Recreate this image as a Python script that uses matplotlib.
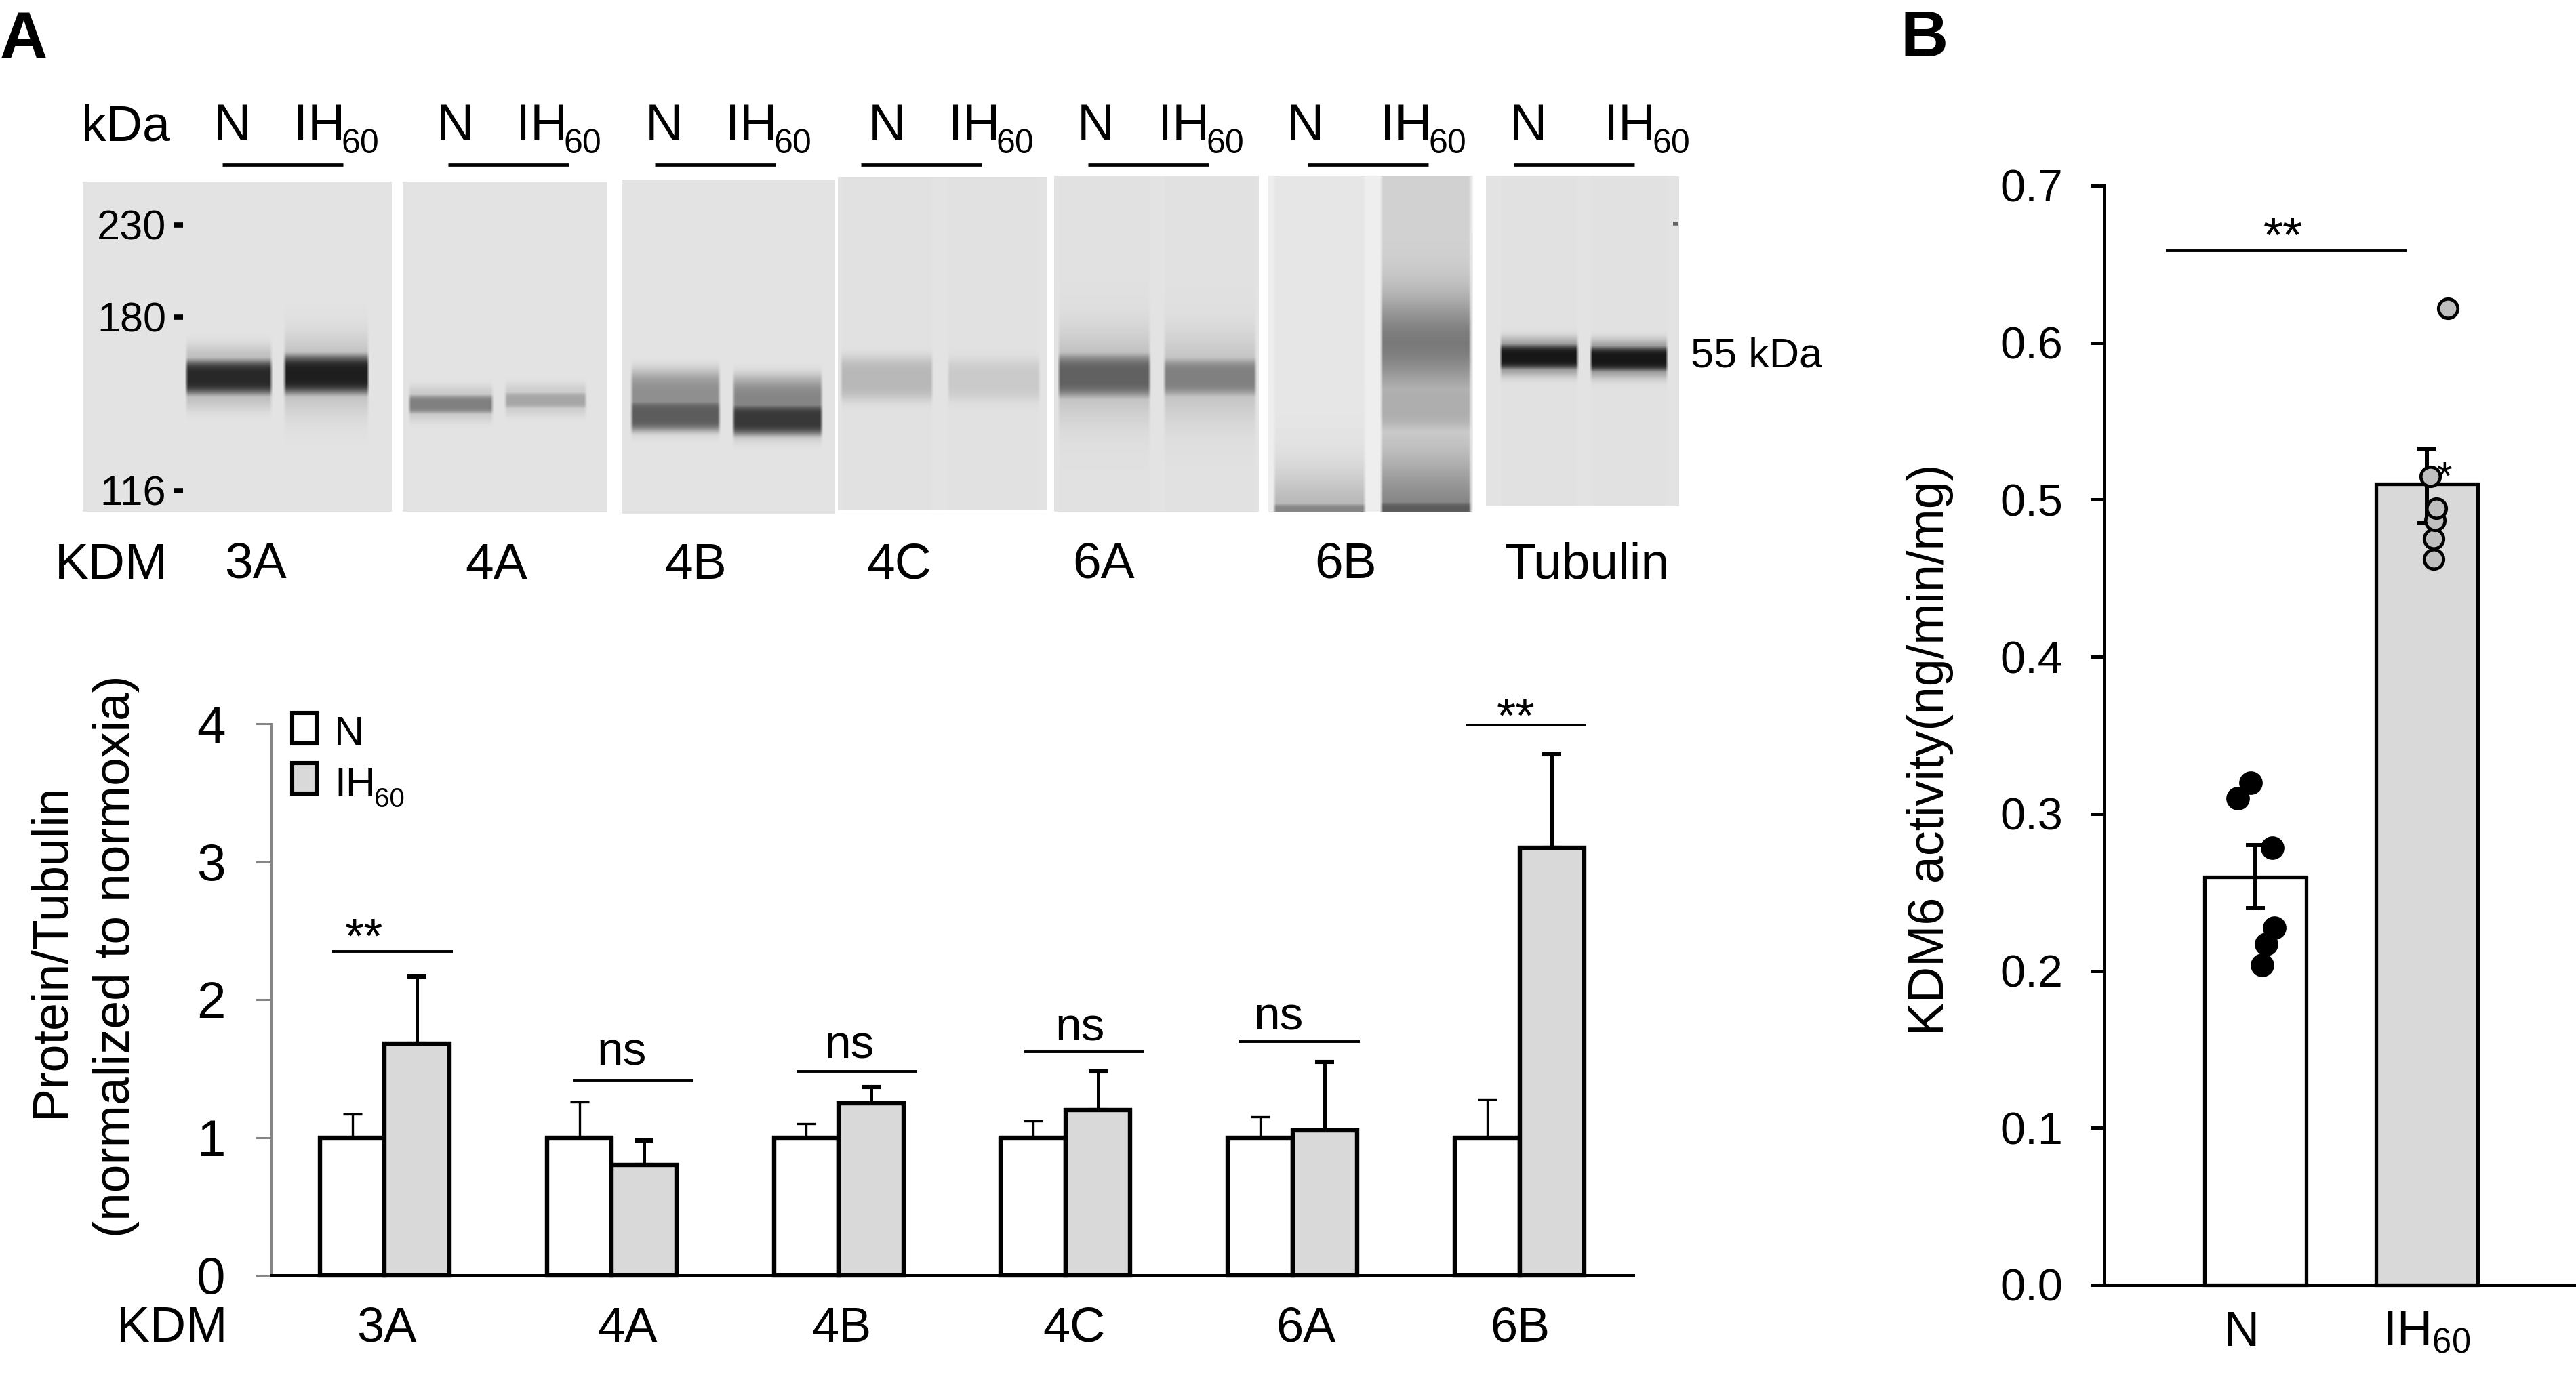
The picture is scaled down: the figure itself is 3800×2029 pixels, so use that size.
import numpy as np
import matplotlib
matplotlib.use("Agg")
import matplotlib.pyplot as plt

plt.rcParams['font.family'] = ['Liberation Sans', 'DejaVu Sans']
plt.rcParams['mathtext.fontset'] = 'custom'
plt.rcParams['mathtext.rm'] = 'Liberation Sans'
plt.rcParams['mathtext.default'] = 'regular'

# panel A values
kdm = ["3A", "4A", "4B", "4C", "6A", "6B"]
normoxia = [1, 1, 1, 1, 1, 1]
ih60 = [1.68, 0.80, 1.25, 1.20, 1.05, 3.10]
normoxiaTop = [1.17, 1.26, 1.10, 1.12, 1.15, 1.28]
ih60Top = [2.165, 0.98, 1.365, 1.48, 1.55, 3.78]
sigLevel = [2.35, 1.415, 1.48, 1.62, 1.695, 3.99]
sigText = ["**", "ns", "ns", "ns", "ns", "**"]

# panel B values
groups = ["N", "IH$_{60}$"]
activity = [0.26, 0.51]
activityLow = [0.24, 0.485]
activityHigh = [0.28, 0.5325]
dotsN = [0.32, 0.31, 0.2785, 0.2273, 0.217, 0.2038]
dotsIH = [0.622, 0.462, 0.475, 0.487, 0.4946, 0.515]

W, H = 3800, 2029
GREY = "#d9d9d9"
fig = plt.figure(figsize=(W / 100, H / 100), dpi=100, facecolor="white")

def pxAxes(x0, x1, ytop, ybot):
    return fig.add_axes([x0 / W, 1 - ybot / H, (x1 - x0) / W, (ybot - ytop) / H], facecolor="none")

# everything placed by pixel goes on this one
page = fig.add_axes([0, 0, 1, 1], zorder=0)

# blot: x0, x1, y0, y1, background, lanes
# lane: x0, x1, lane background, bands (centre, half height, grey)
blots = [
    (122, 578, 268, 755, 0.89, [
        (272, 402, 0.89, [(556, 46, 0.72), (556, 26, 0.16)]),
        (417, 545, 0.89, [(552, 52, 0.70), (552, 29, 0.12)])]),
    (594, 896, 268, 755, 0.89, [
        (601, 728, 0.89, [(595, 26, 0.78), (596, 14, 0.50)]),
        (743, 866, 0.89, [(589, 24, 0.80), (590, 12, 0.65)])]),
    (917, 1232, 265, 758, 0.89, [
        (929, 1063, 0.89, [(590, 44, 0.56), (612, 24, 0.36)]),
        (1079, 1214, 0.89, [(599, 44, 0.52), (618, 24, 0.22)])]),
    (1236, 1544, 261, 753, 0.89, [
        (1238, 1377, 0.88, [(558, 32, 0.72)]),
        (1396, 1535, 0.88, [(560, 30, 0.79)])]),
    (1555, 1857, 259, 755, 0.89, [
        (1559, 1698, 0.88, [(552, 62, 0.72), (554, 32, 0.38)]),
        (1715, 1854, 0.88, [(556, 60, 0.74), (556, 28, 0.50)])]),
    (1871, 2173, 259, 755, 0.93, [
        (1877, 2015, 0.90, [(765, 70, 0.70), (752, 10, 0.52)]),
        (2035, 2171, 0.82, [(505, 70, 0.48), (597, 36, 0.68), (755, 80, 0.52), (752, 14, 0.36)])]),
    (2192, 2477, 260, 747, 0.89, [
        (2211, 2329, 0.88, [(526, 28, 0.55), (526, 19, 0.09)]),
        (2344, 2461, 0.88, [(529, 28, 0.55), (529, 19, 0.09)])]),
]

for x0, x1, y0, y1, bg, lanes in blots:
    img = np.full((y1 - y0, x1 - x0), float(bg))
    yy = np.arange(y0, y1)
    xx = np.arange(x0, x1)
    for lx0, lx1, lbg, bands in lanes:
        prof = np.full(len(yy), float(lbg))
        for c, hw, g in bands:
            # the wide smears fade slowly, the tight bands have flat tops
            p = 2 if hw > 50 else 4
            t = np.exp(-np.abs((yy - c) / hw) ** p)
            prof = np.minimum(prof, lbg - (lbg - g) * t)
        edge = np.clip((xx - lx0) / 5, 0, 1) * np.clip((lx1 - xx) / 5, 0, 1)
        img = img * (1 - edge[None, :]) + prof[:, None] * edge[None, :]
    page.imshow(img, cmap="gray", vmin=0, vmax=1, extent=(x0, x1, y1, y0),
                aspect="auto", interpolation="bilinear")

page.set_xlim(0, W)
page.set_ylim(H, 0)
page.axis("off")

def note(x, y, s, size, **kw):
    page.text(x, y, s, fontsize=size, color="black", va=kw.pop("va", "baseline"), **kw)

NARROW = ['Liberation Sans Narrow', 'Liberation Sans']

note(0, 85, "A", 70, fontweight="bold")
note(2803, 83, "B", 70, fontweight="bold")
note(120, 207, "kDa", 53)

headN = [315, 644, 952, 1281, 1589, 1898, 2227]
headIH = [433, 761, 1070, 1399, 1708, 2036, 2366]
headLine = [(328, 506), (661, 839), (966, 1144), (1270, 1448), (1605, 1783), (1929, 2107), (2233, 2411)]
for xn, xi, (l0, l1) in zip(headN, headIH, headLine):
    note(xn, 207, "N", 55, family=NARROW)
    note(xi, 207, "IH", 55, family=NARROW)
    note(xi + 71, 226, "60", 36, family=NARROW)
    page.plot([l0, l1], [243, 243], color="black", lw=3.4, solid_capstyle="butt")

for s, y in zip(["230", "180", "116"], [332, 468, 724]):
    note(245, y + 21, s, 44, ha="right")
    page.plot([256, 270], [y, y], color="black", lw=5.5, solid_capstyle="butt")
page.plot([2468, 2476], [330, 330], color="#666666", lw=4, solid_capstyle="butt")

note(81, 854, "KDM", 54)
blotNames = kdm + ["Tubulin"]
for s, x in zip(blotNames, [331, 686, 980, 1278, 1582, 1939, 2219]):
    note(x, 854, s, 54)
note(2494, 542, "55 kDa", 44)

note(75, 1403, "Protein/Tubulin", 53, rotation=90, ha="center", va="center")
note(172, 1411, "(normalized to normoxia)", 54, rotation=90, ha="center", va="center")
note(2847, 1106, "KDM6 activity(ng/min/mg)", 53, rotation=90, ha="center", va="center")

# panel A bars
axA = pxAxes(400, 2409, 1068, 1882)
axA.set_zorder(1)
pos = np.arange(len(kdm))
bw = 0.285
axA.bar(pos - bw / 2, normoxia, bw, color="white", edgecolor="black", linewidth=4.6, clip_on=False, zorder=3)
axA.bar(pos + bw / 2, ih60, bw, color=GREY, edgecolor="black", linewidth=4.6, clip_on=False, zorder=3)
axA.errorbar(pos - bw / 2, normoxia, yerr=[np.zeros(6), np.array(normoxiaTop) - np.array(normoxia)],
             fmt="none", ecolor="black", elinewidth=2.4, capsize=10, capthick=2.4, zorder=2)
axA.errorbar(pos + bw / 2, ih60, yerr=[np.zeros(6), np.array(ih60Top) - np.array(ih60)],
             fmt="none", ecolor="black", elinewidth=3.6, capsize=10, capthick=4.4, zorder=2)
axA.set_xlim(-0.5, 5.5)
axA.set_ylim(0, 4)
axA.set_xticks([])
axA.set_yticks([0, 1, 2, 3, 4])
axA.tick_params(axis="y", length=16.5, width=2.2, color="#868686", pad=32, labelsize=55)
for side in ["top", "right"]:
    axA.spines[side].set_visible(False)
axA.spines["left"].set_color("#868686")
axA.spines["left"].set_linewidth(2.2)
axA.spines["bottom"].set_linewidth(3.6)

sigLeft = [-0.23, 0.833, 1.816, 2.817, 3.763, 4.763]
sigRight = [0.299, 1.362, 2.345, 3.348, 4.295, 5.293]
for l, r, v in zip(sigLeft, sigRight, sigLevel):
    axA.plot([l, r], [v, v], color="black", lw=2.8, solid_capstyle="butt", clip_on=False)

sigX = [537, 917, 1253, 1593, 1886, 2236]
sigBase = [1406, 1572, 1562, 1535, 1519, 1081]
for x, y, s in zip(sigX, sigBase, sigText):
    note(x, y, s, 52 if s == "**" else 50, ha="center")

for s, x in zip(kdm, [570, 926, 1241, 1584, 1927, 2242]):
    note(x, 1980, s, 52, ha="center")
note(335, 1980, "KDM", 53, ha="right")

# legend
for top, col in zip([1050, 1124], ["white", GREY]):
    page.add_patch(plt.Rectangle((431, top + 2), 36, 45, facecolor=col, edgecolor="black", linewidth=4.4))
note(493, 1100, "N", 44, family=NARROW)
note(493, 1175, "IH", 44, family=NARROW)
note(552, 1191, "60", 29, family=NARROW)

# panel B
axB = pxAxes(3104, 3800, 274, 1896)
axB.set_zorder(1)
xB = np.arange(2)
axB.bar(xB, activity, 0.594, color=["white", GREY], edgecolor="black", linewidth=3.8, clip_on=False, zorder=2)
v = np.array(activity)
axB.errorbar(xB, activity, yerr=[v - np.array(activityLow), np.array(activityHigh) - v],
             fmt="none", ecolor="black", elinewidth=4.3, capsize=10, capthick=4.3, zorder=3)
axB.text(1.10, 0.5067, "*", fontsize=42, ha="center", va="baseline", zorder=3)
axB.plot(np.array([-0.028, -0.104, 0.099, 0.111, 0.063, 0.04]), dotsN, "o", color="black",
         ms=25, mew=0, zorder=4, clip_on=False)
axB.plot(1 + np.array([0.121, 0.041, 0.041, 0.049, 0.057, 0.018]), dotsIH, "o", mfc="#bfbfbf", mec="black",
         ms=20.5, mew=3.4, zorder=4, clip_on=False)
axB.set_xlim(-0.883, 1.87)
axB.set_ylim(0, 0.7)
# the N label sits a little left of its bar in the figure
axB.set_xticks([-0.085, 1])
axB.set_xticklabels(groups)
axB.set_yticks(np.arange(0, 0.71, 0.1))
axB.set_yticklabels(["%.1f" % t for t in np.arange(0, 0.71, 0.1)])
axB.tick_params(axis="y", length=14.5, width=3.6, pad=29, labelsize=48)
axB.tick_params(axis="x", length=0, pad=27, labelsize=52)
for side in ["top", "right"]:
    axB.spines[side].set_visible(False)
axB.spines["left"].set_linewidth(3.6)
axB.spines["bottom"].set_linewidth(3.6)
note(3368, 372, "**", 54, ha="center")
page.plot([3195, 3550], [370, 370], color="black", lw=2.8, solid_capstyle="butt")

fig.savefig("out.png", dpi=100)
